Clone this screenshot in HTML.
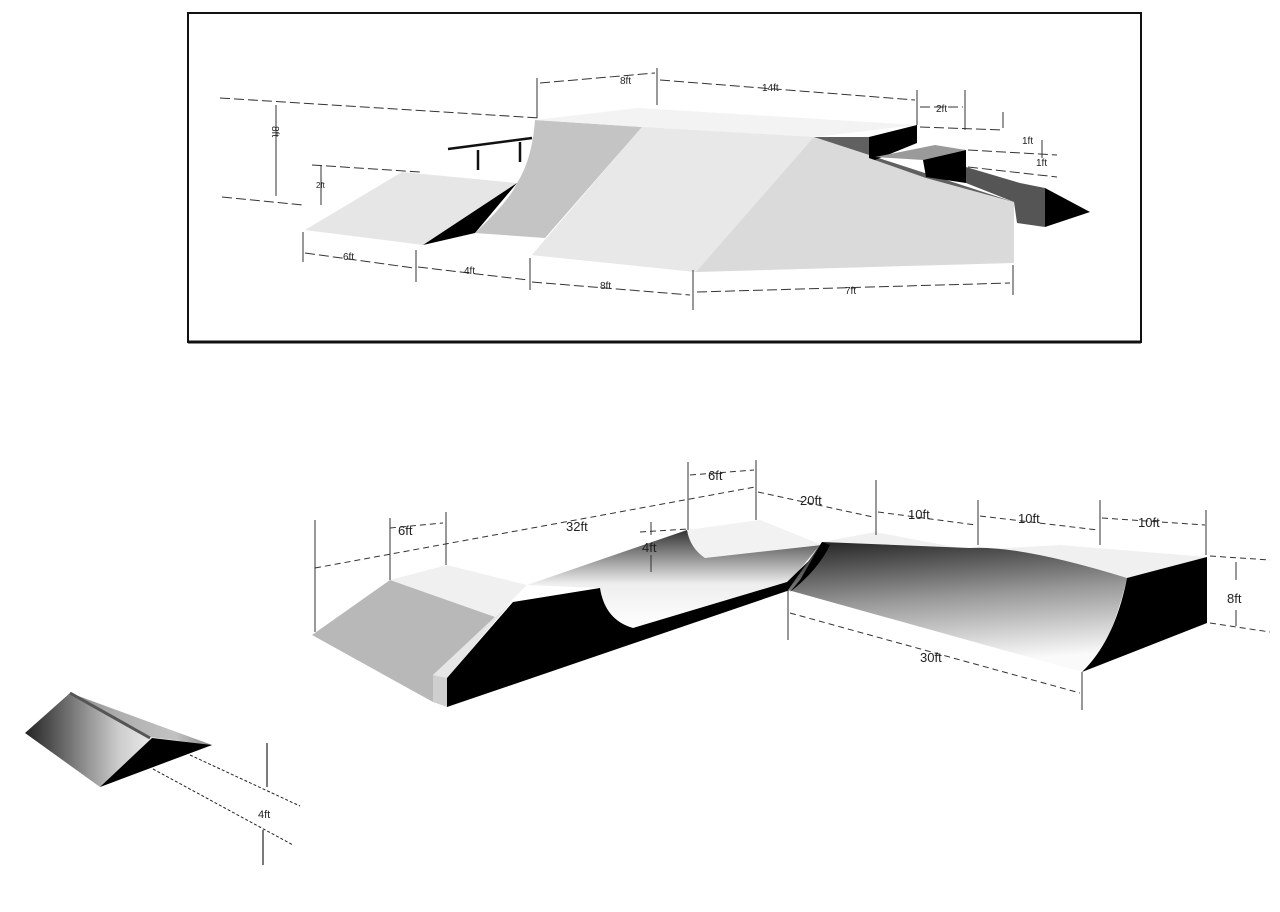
<!DOCTYPE html>
<html><head><meta charset="utf-8"><style>
html,body{margin:0;padding:0;background:#fff;}
svg{display:block;}
text{font-family:"Liberation Sans",sans-serif;fill:#222;}
</style></head><body>
<svg width="1280" height="912" viewBox="0 0 1280 912" xmlns="http://www.w3.org/2000/svg">
<defs>
<linearGradient id="ch" x1="0" y1="0" x2="0" y2="1">
<stop offset="0" stop-color="#333"/><stop offset="0.55" stop-color="#eee"/><stop offset="1" stop-color="#fff"/></linearGradient>
<linearGradient id="rf" x1="0" y1="0" x2="0.2" y2="1">
<stop offset="0" stop-color="#222"/><stop offset="0.5" stop-color="#999"/><stop offset="1" stop-color="#fafafa"/></linearGradient>
<linearGradient id="sr" x1="0" y1="0" x2="1" y2="0">
<stop offset="0" stop-color="#222"/><stop offset="0.5" stop-color="#ccc"/><stop offset="0.8" stop-color="#fff"/><stop offset="1" stop-color="#777"/></linearGradient>
</defs>
<!-- top box -->
<rect x="188" y="13" width="953" height="329" fill="none" stroke="#111" stroke-width="2"/>
<line x1="188" y1="342" x2="1141" y2="342" stroke="#111" stroke-width="3"/>

<!-- top structure -->
<polygon points="305,230 402,172 517,183 423,245" fill="#e6e6e6"/>
<polygon points="423,245 517,183 475,233" fill="#000"/>
<path d="M535,120 L642,127 L545,238 L475,233 Q510,200 517,183 Q532,160 535,120 Z" fill="#c4c4c4"/>
<polygon points="642,127 814,137 1014,202 1014,263 696,272 532,255" fill="#dadada"/>
<polygon points="642,127 814,137 696,272 532,255" fill="#e8e8e8"/>
<polygon points="535,120 638,108 917,125 814,137 642,127" fill="#f3f3f3"/>
<polygon points="814,137 869,137 869,158 926,178 1014,202" fill="#606060"/>
<polygon points="869,137 917,125 917,143 875,160 869,158" fill="#000"/>
<polygon points="875,157 935,145 966,150 923,160" fill="#9a9a9a"/>
<polygon points="923,160 966,150 966,183 926,177" fill="#000"/>
<polygon points="966,167 1020,183 1045,188 1045,227 1017,223 1014,202 966,183" fill="#555"/>
<polygon points="1045,188 1090,212 1045,227" fill="#000"/>
<g stroke="#111" stroke-width="2.5">
<line x1="448" y1="149" x2="532" y2="138"/>
<line x1="478" y1="150" x2="478" y2="170"/>
<line x1="520" y1="142" x2="520" y2="162"/>
</g>
<g stroke="#333" stroke-width="1" fill="none" stroke-dasharray="10,4">
<line x1="220" y1="98" x2="540" y2="118"/>
<line x1="222" y1="197" x2="303" y2="205"/>
<line x1="312" y1="165" x2="420" y2="172"/>
<line x1="540" y1="83" x2="655" y2="73"/>
<line x1="660" y1="80" x2="915" y2="100"/>
<line x1="920" y1="107" x2="963" y2="107"/>
<line x1="920" y1="127" x2="1003" y2="130"/>
<line x1="968" y1="150" x2="1057" y2="155"/>
<line x1="968" y1="167" x2="1057" y2="177"/>
<line x1="305" y1="253" x2="414" y2="268"/>
<line x1="418" y1="267" x2="528" y2="280"/>
<line x1="532" y1="282" x2="690" y2="295"/>
<line x1="697" y1="292" x2="1010" y2="283"/>
</g>
<g stroke="#333" stroke-width="1">
<line x1="276" y1="105" x2="276" y2="196"/>
<line x1="321" y1="165" x2="321" y2="205"/>
<line x1="537" y1="78" x2="537" y2="118"/>
<line x1="657" y1="68" x2="657" y2="105"/>
<line x1="917" y1="90" x2="917" y2="125"/>
<line x1="965" y1="90" x2="965" y2="130"/>
<line x1="1003" y1="112" x2="1003" y2="128"/>
<line x1="1042" y1="140" x2="1042" y2="158"/>
<line x1="303" y1="232" x2="303" y2="262"/>
<line x1="416" y1="250" x2="416" y2="282"/>
<line x1="530" y1="258" x2="530" y2="290"/>
<line x1="693" y1="270" x2="693" y2="310"/>
<line x1="1013" y1="265" x2="1013" y2="295"/>
</g>
<g font-size="10">
<text x="272" y="134" transform="rotate(90 276 130)">8ft</text>
<text x="316" y="188" font-size="8">2ft</text>
<text x="620" y="84">8ft</text>
<text x="762" y="91">14ft</text>
<text x="936" y="112">2ft</text>
<text x="1022" y="144">1ft</text>
<text x="1036" y="166">1ft</text>
<text x="343" y="260">6ft</text>
<text x="464" y="274">4ft</text>
<text x="600" y="289">8ft</text>
<text x="845" y="294">7ft</text>
</g>

<!-- bottom structure -->
<polygon points="390,580 447,565 527,585 495,617" fill="#f0f0f0"/>
<polygon points="312,635 390,580 495,617 433,675 433,702" fill="#b8b8b8"/>
<polygon points="495,617 513,600 447,678 433,675" fill="#e6e6e6"/>
<polygon points="433,675 447,678 447,707 433,702" fill="#cfcfcf"/>
<path d="M527,585 L687,530 L820,545 L787,585 L633,628 Q605,620 600,588 Z" fill="url(#ch)"/>
<path d="M687,530 Q690,548 705,558 L822,545 L760,520 Z" fill="#f2f2f2"/>
<path d="M447,678 L513,602 L600,588 Q605,620 633,628 L787,582 L820,550 L815,565 L790,590 L447,707 Z" fill="#000"/>
<path d="M822,542 L875,532 L970,550 L1060,545 L1207,557 L1127,578 Z" fill="#f0f0f0"/>
<path d="M788,590 L822,542 L970,548 Q1020,545 1127,578 Q1110,650 1082,672 Z" fill="url(#rf)"/>
<path d="M1127,578 L1207,557 L1207,623 L1082,672 Q1115,640 1127,578 Z" fill="#000"/>
<path d="M800,580 L822,542 L830,545 Q818,570 790,592 Z" fill="#000"/>
<g stroke="#333" stroke-width="1">
<line x1="315" y1="520" x2="315" y2="632"/>
<line x1="390" y1="518" x2="390" y2="580"/>
<line x1="446" y1="512" x2="446" y2="565"/>
<line x1="688" y1="462" x2="688" y2="530"/>
<line x1="756" y1="460" x2="756" y2="520"/>
<line x1="876" y1="480" x2="876" y2="535"/>
<line x1="978" y1="500" x2="978" y2="545"/>
<line x1="1100" y1="500" x2="1100" y2="545"/>
<line x1="1206" y1="510" x2="1206" y2="555"/>
<line x1="651" y1="522" x2="651" y2="535"/>
<line x1="651" y1="555" x2="651" y2="572"/>
<line x1="1236" y1="562" x2="1236" y2="580"/>
<line x1="1236" y1="610" x2="1236" y2="626"/>
<line x1="788" y1="590" x2="788" y2="640"/>
<line x1="1082" y1="672" x2="1082" y2="710"/>
</g>
<g stroke="#333" stroke-width="1" fill="none" stroke-dasharray="6,4">
<line x1="390" y1="528" x2="443" y2="523"/>
<line x1="315" y1="568" x2="755" y2="487"/>
<line x1="690" y1="475" x2="754" y2="470"/>
<line x1="758" y1="492" x2="873" y2="517"/>
<line x1="878" y1="512" x2="976" y2="525"/>
<line x1="980" y1="516" x2="1098" y2="530"/>
<line x1="1102" y1="518" x2="1205" y2="525"/>
<line x1="1210" y1="556" x2="1270" y2="560"/>
<line x1="1210" y1="623" x2="1270" y2="632"/>
<line x1="790" y1="613" x2="1080" y2="693"/>
<line x1="640" y1="532" x2="688" y2="529"/>
</g>
<g font-size="13">
<text x="398" y="535">6ft</text>
<text x="566" y="531">32ft</text>
<text x="708" y="480">6ft</text>
<text x="800" y="505">20ft</text>
<text x="908" y="519">10ft</text>
<text x="1018" y="523">10ft</text>
<text x="1138" y="527">10ft</text>
<text x="642" y="552">4ft</text>
<text x="1227" y="603">8ft</text>
<text x="920" y="662">30ft</text>
</g>

<!-- small ramp -->
<polygon points="25,733 70,693 212,745 100,787" fill="url(#sr)"/>
<polygon points="70,693 212,745 150,737" fill="#999" opacity="0.6"/>
<polygon points="100,787 152,738 212,745" fill="#000"/>
<line x1="70" y1="693" x2="150" y2="738" stroke="#555" stroke-width="3"/>
<g stroke="#222" stroke-width="1" stroke-dasharray="3,2">
<line x1="190" y1="755" x2="300" y2="806"/>
<line x1="153" y1="769" x2="293" y2="845"/>
</g>
<g stroke="#222" stroke-width="1.2">
<line x1="267" y1="743" x2="267" y2="787"/>
<line x1="263" y1="830" x2="263" y2="865"/>
</g>
<text x="258" y="818" font-size="11" fill="#888">4ft</text>
</svg>
</body></html>
